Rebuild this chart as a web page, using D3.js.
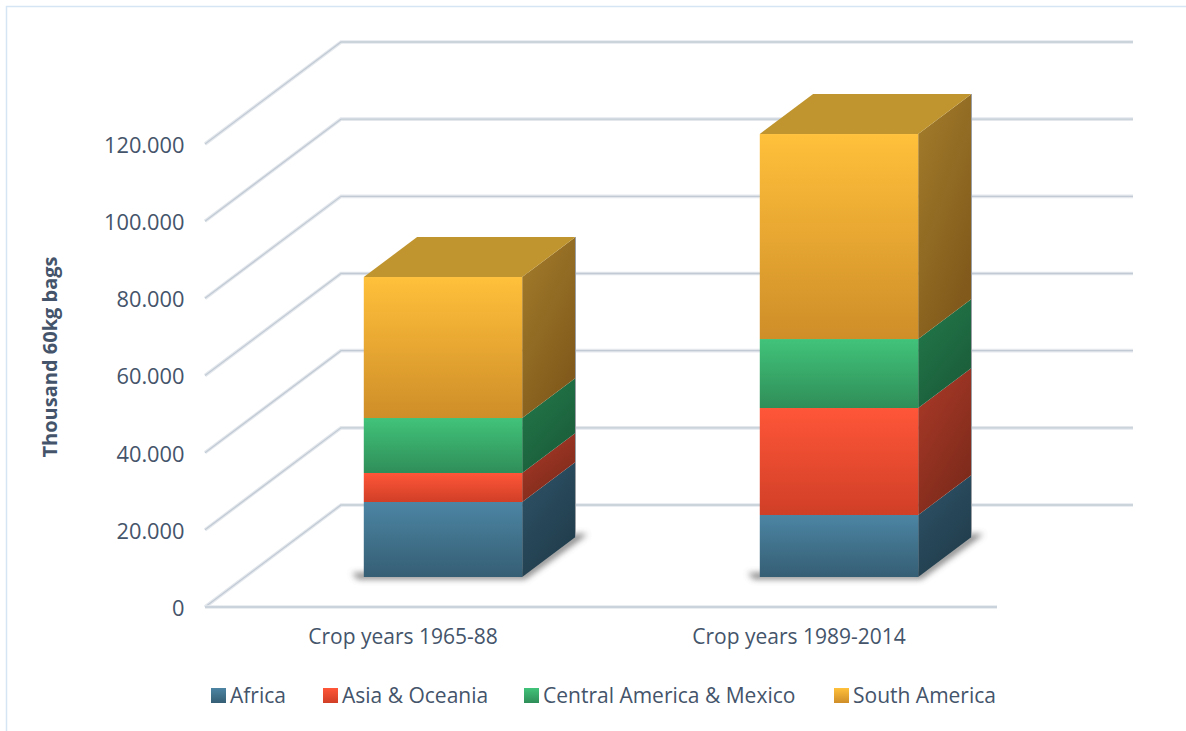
<!DOCTYPE html>
<html lang="en">
<head>
    <meta charset="UTF-8">
    <title>Coffee production by region</title>
    <script src="https://d3js.org/d3.v7.min.js"></script>
    <style>
        html, body { margin: 0; padding: 0; background: #fff; }
        svg { display: block; }
        text { font-family: "Open Sans", "Noto Sans", sans-serif; fill: #44546a; }
    </style>
</head>
<body>
    <div id="charts"></div>
    <script>
        // data (thousand 60kg bags)
        const categories = ["Crop years 1965-88", "Crop years 1989-2014"];
        const seriesNames = ["Africa", "Asia & Oceania", "Central America & Mexico", "South America"];
        const africa = [19440, 16070];
        const asia = [7520, 27730];
        const central = [14250, 17880];
        const southAmerica = [36540, 53130];
        const yTicks = [0, 20000, 40000, 60000, 80000, 100000, 120000];

        const width = 1186, height = 731;

        // depth of the 3d box, and where the bars stand inside it
        const depth = { dx: 136, dy: 102 };
        const barFront = 0.294, barBack = 0.686;

        const x = d3.scaleBand().domain(categories).range([205, 997]);
        const y = d3.scaleLinear().domain([0, 120000]).range([607, 144]);
        const barWidth = x.bandwidth() * 0.4;

        // value + depth -> screen
        const px = (xv, t) => xv + depth.dx * t;
        const py = (v, t) => y(v) - depth.dy * t;

        const rows = categories.map((c, i) => ({
            category: c,
            Africa: africa[i],
            "Asia & Oceania": asia[i],
            "Central America & Mexico": central[i],
            "South America": southAmerica[i]
        }));
        const stacked = d3.stack().keys(seriesNames)(rows);

        const colors = {
            "Africa": { front: ["#4c85a3", "#355e74"], side: ["#2f5468", "#203c4b"] },
            "Asia & Oceania": { front: ["#ff5638", "#d03f27"], side: ["#ad3a28", "#7c2a1b"] },
            "Central America & Mexico": { front: ["#41c37a", "#2f8e58"], side: ["#237a4b", "#1a5c39"] },
            "South America": { front: ["#ffc03b", "#cf8e28"], side: ["#a47d2c", "#80591b"], top: "#c0952f" }
        };

        const svg = d3.select("#charts").append("svg")
            .attr("width", width)
            .attr("height", height);

        const defs = svg.append("defs");
        seriesNames.forEach((name, i) => {
            const f = defs.append("linearGradient").attr("id", "front" + i)
                .attr("x1", 0).attr("y1", 0).attr("x2", 0).attr("y2", 1);
            f.append("stop").attr("offset", "0%").attr("stop-color", colors[name].front[0]);
            f.append("stop").attr("offset", "100%").attr("stop-color", colors[name].front[1]);
            const s = defs.append("linearGradient").attr("id", "side" + i)
                .attr("x1", 0).attr("y1", 0).attr("x2", 0.6).attr("y2", 1);
            s.append("stop").attr("offset", "0%").attr("stop-color", colors[name].side[0]);
            s.append("stop").attr("offset", "100%").attr("stop-color", colors[name].side[1]);
        });
        defs.append("filter").attr("id", "blur")
            .attr("x", "-20%").attr("y", "-20%").attr("width", "140%").attr("height", "140%")
            .append("feGaussianBlur").attr("stdDeviation", 3);

        // frame of the chart area
        svg.append("path")
            .attr("d", `M6.5,${height}V6.5H${width}`)
            .attr("fill", "none")
            .attr("stroke", "#d6e5f4")
            .attr("stroke-width", 1.5);

        // walls and floor
        const x0 = x.range()[0], x1 = x.range()[1];
        const wall = d3.line();
        const grid = svg.append("g").attr("fill", "none");
        function gridLine(points) {
            grid.append("path").attr("d", wall(points)).attr("stroke", "#e4e8ed").attr("stroke-width", 3.6);
            grid.append("path").attr("d", wall(points)).attr("stroke", "#c2cbd5").attr("stroke-width", 1.3);
        }
        yTicks.forEach(t => {
            gridLine([[x0, y(t)], [px(x0, 1), py(t, 1)], [px(x1, 1), py(t, 1)]]);
        });
        gridLine([[x0, y(0)], [x1, y(0)]]);

        // bars
        const bars = svg.append("g");
        categories.forEach(c => {
            const left = x(c) + (x.bandwidth() - barWidth) / 2;
            const right = left + barWidth;
            const pts = a => a.map(p => p.join(",")).join(" ");

            // soft shadow on the floor
            bars.append("polygon")
                .attr("points", pts([
                    [px(left, barFront) - 12, py(0, barFront) - 4],
                    [px(right, barFront), py(0, barFront) - 4],
                    [px(right, barBack), py(0, barBack) - 3],
                    [px(right, barBack) + 12, py(0, barBack) - 3],
                    [px(right, barFront) + 3, py(0, barFront) + 2],
                    [px(left, barFront) - 6, py(0, barFront) + 2]
                ]))
                .attr("fill", "#555")
                .attr("opacity", 0.75)
                .attr("filter", "url(#blur)");

            stacked.forEach((s, i) => {
                const d = s[categories.indexOf(c)];
                // side
                bars.append("polygon")
                    .attr("points", pts([
                        [px(right, barFront), py(d[0], barFront)],
                        [px(right, barBack), py(d[0], barBack)],
                        [px(right, barBack), py(d[1], barBack)],
                        [px(right, barFront), py(d[1], barFront)]
                    ]))
                    .attr("fill", `url(#side${i})`);
                // front
                bars.append("rect")
                    .attr("x", px(left, barFront))
                    .attr("y", py(d[1], barFront))
                    .attr("width", barWidth)
                    .attr("height", py(d[0], barFront) - py(d[1], barFront))
                    .attr("fill", `url(#front${i})`);
                // lid on the top segment
                if (i === stacked.length - 1) {
                    bars.append("polygon")
                        .attr("points", pts([
                            [px(left, barFront), py(d[1], barFront)],
                            [px(right, barFront), py(d[1], barFront)],
                            [px(right, barBack), py(d[1], barBack)],
                            [px(left, barBack), py(d[1], barBack)]
                        ]))
                        .attr("fill", colors[s.key].top);
                }
            });

            // thin grey edge down the back of the side face
            const total = stacked[stacked.length - 1][categories.indexOf(c)][1];
            bars.append("line")
                .attr("x1", px(right, barBack)).attr("y1", py(total, barBack))
                .attr("x2", px(right, barBack)).attr("y2", py(0, barBack))
                .attr("stroke", "#9aa0a6").attr("stroke-width", 1);
        });

        // axes
        const nf = d3.formatLocale({ decimal: ",", thousands: ".", grouping: [3], currency: ["", ""] }).format(",");
        const yAxis = svg.append("g")
            .attr("transform", "translate(184.5,1.5)")
            .call(d3.axisLeft(y).tickValues(yTicks).tickFormat(nf).tickSize(0).tickPadding(0));
        yAxis.select(".domain").remove();
        yAxis.selectAll("text").style("font-size", "21.8px");

        const xAxis = svg.append("g")
            .attr("transform", "translate(0,607)")
            .call(d3.axisBottom(x).tickSize(0).tickPadding(22));
        xAxis.select(".domain").remove();
        xAxis.selectAll("text").style("font-size", "21px");

        svg.append("text")
            .attr("transform", "translate(50,357) rotate(-90)")
            .attr("text-anchor", "middle")
            .attr("dy", "0.35em")
            .style("font-size", "20px")
            .style("font-weight", "700")
            .text("Thousand 60kg bags");

        // legend
        const legendX = [211, 323, 524, 834];
        const legend = svg.append("g");
        seriesNames.forEach((name, i) => {
            legend.append("rect")
                .attr("x", legendX[i]).attr("y", 688)
                .attr("width", 15).attr("height", 15)
                .attr("fill", `url(#front${i})`);
            legend.append("text")
                .attr("x", legendX[i] + 19).attr("y", 696)
                .attr("dy", "0.35em")
                .style("font-size", "21px")
                .text(name);
        });
    </script>
</body>
</html>
